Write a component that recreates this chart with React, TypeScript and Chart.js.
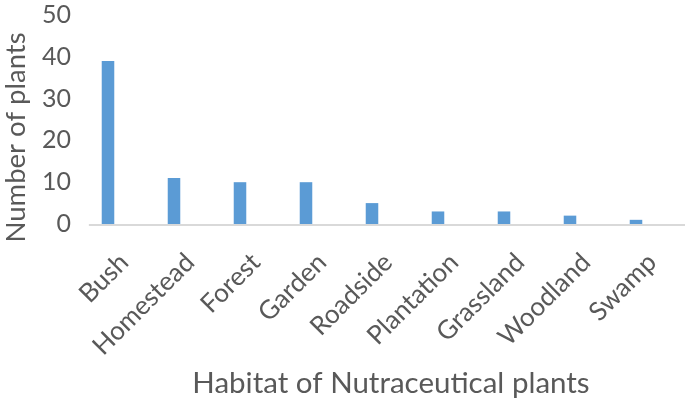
import React, { useEffect, useRef } from "react";
import { Chart, registerables } from "chart.js";

Chart.register(...registerables);

const categories = ["Bush", "Homestead", "Forest", "Garden", "Roadside", "Plantation", "Grassland", "Woodland", "Swamp"];
const plantCounts = [39, 11, 10, 10, 5, 3, 3, 2, 1];
const yTicks = [0, 10, 20, 30, 40, 50];
const yTitle = "Number of plants";
const xTitle = "Habitat of Nutraceutical plants";

const FONT = "Lato";
const TEXT = "#595959";

const decorPlugin = {
  id: "decor",
  beforeDatasetsDraw(chart: any) {
    const { ctx, chartArea } = chart;
    const xs = chart.scales.x;
    const ys = chart.scales.y;
    const step = xs.getPixelForValue(1) - xs.getPixelForValue(0);
    const y0 = ys.getPixelForValue(0);
    const start = xs.getPixelForValue(0) - step * 0.29;
    ctx.save();
    ctx.strokeStyle = "#d9d9d9";
    ctx.lineWidth = 2;
    ctx.beginPath();
    ctx.moveTo(start, y0 + 1);
    ctx.lineTo(chart.width, y0 + 1);
    ctx.stroke();
    ctx.fillStyle = TEXT;
    ctx.textAlign = "center";
    // x axis title
    ctx.font = `29.5px ${FONT}`;
    ctx.textBaseline = "middle";
    ctx.fillText(xTitle, (chartArea.left + chartArea.right) / 2 + 19, chartArea.bottom + 159);
    // y axis title (Excel places it slightly below the plot's centre)
    ctx.font = `27.5px ${FONT}`;
    ctx.translate(chartArea.left - 50, (chartArea.top + chartArea.bottom) / 2 + 18);
    ctx.rotate(-Math.PI / 2);
    ctx.textBaseline = "alphabetic";
    ctx.fillText(yTitle, 0, 0);
    ctx.restore();
  },
};

export default function App() {
  const ref = useRef<HTMLCanvasElement | null>(null);
  useEffect(() => {
    if (!ref.current) return;
    const chart = new Chart(ref.current, {
      type: "bar",
      data: {
        labels: categories,
        datasets: [
          {
            data: plantCounts,
            backgroundColor: "#5b9bd5",
            borderWidth: 0,
            barPercentage: 0.19,
            categoryPercentage: 1,
          },
        ],
      },
      options: {
        animation: false,
        responsive: false,
        maintainAspectRatio: false,
        layout: { padding: { left: 0, right: 16, top: 15, bottom: 0 } },
        plugins: { legend: { display: false }, tooltip: { enabled: false } },
        scales: {
          x: {
            grid: { display: false, drawTicks: false },
            border: { display: false },
            afterFit: (axis: any) => {
              axis.paddingLeft = 0;
              axis.paddingRight = 0;
              axis.height = 186;
            },
            ticks: {
              color: TEXT,
              font: { family: FONT, size: 26 },
              maxRotation: 45,
              minRotation: 45,
              padding: 23,
              labelOffset: 16,
            },
            title: { display: false },
          },
          y: {
            min: 0,
            max: 50,
            afterBuildTicks: (axis: any) => {
              axis.ticks = yTicks.map((v) => ({ value: v }));
            },
            afterFit: (axis: any) => {
              axis.width = 75;
              axis.paddingTop = 0;
              axis.paddingBottom = 0;
            },
            grid: { display: false, drawTicks: false },
            border: { display: false },
            ticks: {
              color: TEXT,
              font: { family: FONT, size: 25 },
              padding: 4,
            },
            title: { display: false },
          },
        },
      },
      plugins: [decorPlugin],
    });
    return () => chart.destroy();
  }, []);
  return (
    <div style={{ position: "fixed", left: 0, top: 0, width: 685, height: 410, background: "#fff" }}>
      <canvas ref={ref} width={685} height={410} style={{ display: "block" }} />
    </div>
  );
}
